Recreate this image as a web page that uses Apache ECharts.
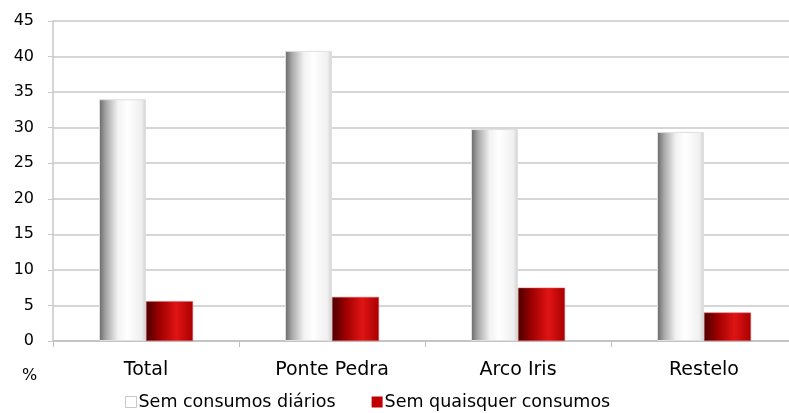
<!DOCTYPE html>
<html>
<head>
<meta charset="utf-8">
<script src="https://cdn.jsdelivr.net/npm/echarts@6/dist/echarts.min.js"></script>
<style>
  html, body { margin: 0; padding: 0; background: #fff; overflow: hidden; }
  #chart { width: 797px; height: 413px; }
</style>
</head>
<body>
<div id="chart"></div>
<script>
// dados
const categories = ["Total", "Ponte Pedra", "Arco Iris", "Restelo"];
const semDiarios = [34, 40.8, 29.8, 29.4];
const semQuaisquer = [5.6, 6.2, 7.5, 4.0];
const seriesNames = ["Sem consumos diários", "Sem quaisquer consumos"];

const font = "DejaVu Sans";

const whiteGrad = new echarts.graphic.LinearGradient(0, 0, 1, 0, [
    { offset: 0, color: "#666666" },
    { offset: 0.15, color: "#a8a8a8" },
    { offset: 0.4, color: "#f2f2f2" },
    { offset: 0.6, color: "#ffffff" },
    { offset: 0.9, color: "#f0f0f0" },
    { offset: 1, color: "#d0d0d0" }
]);
const redGrad = new echarts.graphic.LinearGradient(0, 0, 1, 0, [
    { offset: 0, color: "#4a0000" },
    { offset: 0.3, color: "#a00000" },
    { offset: 0.65, color: "#e01414" },
    { offset: 1, color: "#a80000" }
]);

// o gráfico original continua um pouco além da margem direita
const chart = echarts.init(document.getElementById("chart"));
chart.setOption({
    animation: false,
    grid: { left: 53, right: 0, top: 21, bottom: 72, containLabel: false },
    legend: {
        bottom: -3,
        left: 120,
        itemWidth: 11,
        itemHeight: 11,
        itemGap: 36,
        textStyle: { fontFamily: font, fontSize: 17.5, color: "#000", padding: [0, 0, 0, -3] },
        data: [
            { name: seriesNames[0], icon: "rect", itemStyle: { color: "#fff", borderColor: "#c8c8c8", borderWidth: 1 } },
            { name: seriesNames[1], icon: "rect", itemStyle: { color: "#c00000", borderWidth: 0 } }
        ]
    },
    graphic: [{
        type: "text", left: 22, top: 368,
        style: { text: "%", fontFamily: font, fontSize: 16, fill: "#000" }
    }],
    xAxis: {
        type: "category",
        data: categories,
        axisLine: { lineStyle: { color: "#bfbfbf", width: 1.5 } },
        axisTick: { show: true, length: 6, lineStyle: { color: "#bfbfbf" } },
        axisLabel: { fontFamily: font, fontSize: 19, color: "#000", margin: 20 }
    },
    yAxis: {
        type: "value",
        min: 0, max: 45, interval: 5,
        axisLine: { show: true, lineStyle: { color: "#c8c8c8", width: 1.5 } },
        axisTick: { show: true, length: 5, lineStyle: { color: "#c8c8c8" } },
        axisLabel: { fontFamily: font, fontSize: 16, color: "#000", margin: 19 },
        splitLine: { lineStyle: { color: "#d6d6d6", width: 2 } }
    },
    series: [
        {
            name: seriesNames[0], type: "bar", data: semDiarios,
            barWidth: 47, barGap: "0%",
            itemStyle: { color: whiteGrad, borderColor: "#e0e0e0", borderWidth: 1 }
        },
        {
            name: seriesNames[1], type: "bar", data: semQuaisquer,
            barWidth: 47,
            itemStyle: { color: redGrad, borderColor: "#e06060", borderWidth: 0.5 }
        }
    ]
});
</script>
</body>
</html>
